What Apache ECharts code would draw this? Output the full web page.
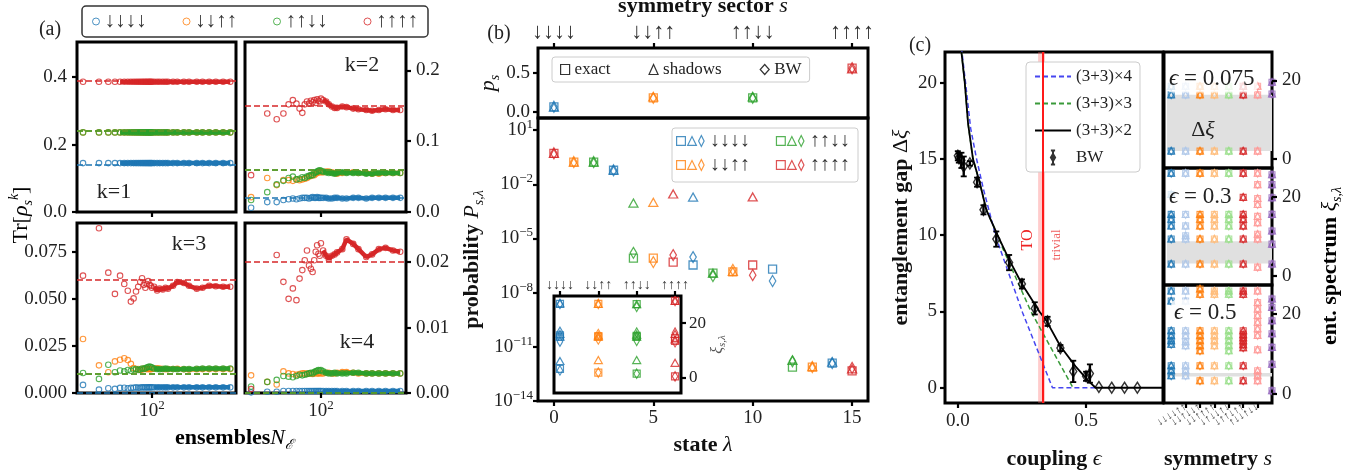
<!DOCTYPE html>
<html><head><meta charset="utf-8">
<script src="https://cdn.jsdelivr.net/npm/echarts@6.0.0/dist/echarts.min.js"></script>
<style>html,body{margin:0;padding:0;background:#fff;}#chart{width:1354px;height:475px;}</style>
</head><body>
<div id="chart"></div>
<script>
/* ================= DATA ================= */
const SECTORS = ['↓↓↓↓','↓↓↑↑','↑↑↓↓','↑↑↑↑'];
const C4 = ['#1f77b4','#ff7f0e','#2ca02c','#d62728'];
const C8 = ['#1f77b4','#aec7e8','#ff7f0e','#ffbb78','#98df8a','#d62728','#ff9896','#9467bd'];

// ---- (a) purity Tr[rho_s^k] vs ensembles N ----
const N_EARLY = [5,10,15,20,25,30,35,40,45,50,55,60,65,70,75,80,85,90,95,100];
const N_LATE  = [110,125,140,160,180,200,250,300,400,500,700,900,1200,1600,2200,3000];
const N_RANGE = [3.85, 3850];
const N_TICKS = [100];

const K1_BLUE_E   = [0.145,0.145,0.145,0.145,0.145, 0.145,0.145,0.145,0.145,0.145, 0.145,0.145,0.145,0.145,0.145, 0.145,0.145,0.145,0.145,0.145];
const K1_BLUE_L   = [0.145,0.145,0.145,0.145, 0.145,0.145,0.145,0.145, 0.145,0.145,0.145,0.145, 0.145,0.145,0.145,0.145];
const K1_ORANGE_E = [0.236,0.236,0.236,0.236,0.236, 0.236,0.236,0.236,0.236,0.236, 0.236,0.236,0.236,0.236,0.236, 0.236,0.236,0.236,0.236,0.236];
const K1_ORANGE_L = [0.236,0.236,0.236,0.236, 0.236,0.236,0.236,0.236, 0.236,0.236,0.236,0.236, 0.236,0.236,0.236,0.236];
const K1_GREEN_E  = [0.236,0.236,0.236,0.236,0.236, 0.236,0.236,0.236,0.236,0.236, 0.236,0.236,0.236,0.236,0.236, 0.236,0.236,0.236,0.236,0.236];
const K1_GREEN_L  = [0.236,0.236,0.236,0.236, 0.236,0.236,0.236,0.236, 0.236,0.236,0.236,0.236, 0.236,0.236,0.236,0.236];
const K1_RED_E    = [0.386,0.386,0.386,0.386,0.386, 0.386,0.386,0.386,0.386,0.386, 0.386,0.386,0.386,0.386,0.386, 0.386,0.386,0.386,0.386,0.386];
const K1_RED_L    = [0.386,0.386,0.386,0.386, 0.386,0.386,0.386,0.386, 0.386,0.386,0.386,0.386, 0.386,0.386,0.386,0.386];
const K1_EXACT    = [0.145,0.236,0.236,0.386];

const K2_BLUE_E   = [0.006,0.014,0.014,0.017,0.018, 0.019,0.018,0.019,0.020,0.020, 0.020,0.019,0.020,0.021,0.020, 0.020,0.021,0.020,0.020,0.020];
const K2_BLUE_L   = [0.020,0.020,0.019,0.019, 0.020,0.020,0.019,0.019, 0.020,0.020,0.019,0.020, 0.020,0.020,0.020,0.020];
const K2_ORANGE_E = [0.021,0.048,0.038,0.045,0.045, 0.044,0.046,0.045,0.046,0.047, 0.048,0.050,0.051,0.053,0.052, 0.054,0.055,0.056,0.057,0.056];
const K2_ORANGE_L = [0.056,0.057,0.057,0.056, 0.055,0.054,0.055,0.056, 0.056,0.055,0.055,0.054, 0.054,0.055,0.055,0.055];
const K2_GREEN_E  = [0.017,0.028,0.039,0.044,0.048, 0.050,0.046,0.047,0.049,0.048, 0.050,0.051,0.052,0.052,0.055, 0.056,0.057,0.058,0.059,0.058];
const K2_GREEN_L  = [0.057,0.056,0.055,0.055, 0.054,0.055,0.056,0.055, 0.055,0.055,0.054,0.054, 0.055,0.055,0.055,0.055];
const K2_RED_E    = [0.052,0.139,0.131,0.139,0.152, 0.158,0.153,0.146,0.140,0.152, 0.156,0.153,0.157,0.155,0.158, 0.154,0.159,0.157,0.156,0.160];
const K2_RED_L    = [0.158,0.156,0.152,0.149, 0.147,0.147,0.149,0.148, 0.146,0.145,0.144,0.143, 0.144,0.145,0.144,0.144];
const K2_EXACT    = [0.0195,0.055,0.055,0.146];

const K3_BLUE_E   = [0.0043,0.0018,0.0025,0.0022,0.0027, 0.0028,0.0025,0.0027,0.0028,0.0030, 0.0028,0.0029,0.0030,0.0030,0.0029, 0.0030,0.0030,0.0030,0.0030,0.0030];
const K3_BLUE_L   = [0.0030,0.0030,0.0030,0.0030, 0.0030,0.0030,0.0030,0.0030, 0.0030,0.0030,0.0030,0.0030, 0.0030,0.0030,0.0030,0.0030];
const K3_ORANGE_E = [0.0287,0.0147,0.0110,0.0168,0.0177, 0.0185,0.0175,0.0155,0.0133,0.0125, 0.0128,0.0122,0.0125,0.0130,0.0128, 0.0127,0.0128,0.0126,0.0127,0.0128];
const K3_ORANGE_L = [0.0130,0.0132,0.0130,0.0128, 0.0126,0.0127,0.0128,0.0129, 0.0126,0.0125,0.0126,0.0127, 0.0127,0.0127,0.0127,0.0127];
const K3_GREEN_E  = [0.0106,0.0075,0.0150,0.0110,0.0120, 0.0115,0.0122,0.0118,0.0125,0.0128, 0.0122,0.0125,0.0130,0.0128,0.0132, 0.0135,0.0138,0.0140,0.0138,0.0135];
const K3_GREEN_L  = [0.0130,0.0128,0.0126,0.0128, 0.0130,0.0128,0.0127,0.0126, 0.0127,0.0128,0.0129,0.0130, 0.0130,0.0130,0.0130,0.0130];
const K3_RED_E    = [0.0624,0.0876,0.0640,0.0527,0.0624, 0.0580,0.0544,0.0486,0.0503,0.0540, 0.0565,0.0590,0.0610,0.0575,0.0560, 0.0580,0.0595,0.0575,0.0570,0.0560];
const K3_RED_L    = [0.0565,0.0545,0.0555,0.0550, 0.0560,0.0555,0.0570,0.0590, 0.0585,0.0570,0.0555,0.0560, 0.0570,0.0568,0.0565,0.0565];
const K3_EXACT    = [0.0030,0.0128,0.0128,0.0565];

const K4_BLUE_E   = [0.0001,0.0002,0.0002,0.0003,0.0003, 0.0003,0.0003,0.0003,0.0003,0.0003, 0.0003,0.0003,0.0003,0.0003,0.0003, 0.0003,0.0003,0.0003,0.0003,0.0003];
const K4_BLUE_L   = [0.0003,0.0003,0.0003,0.0003, 0.0003,0.0003,0.0003,0.0003, 0.0003,0.0003,0.0003,0.0003, 0.0003,0.0003,0.0003,0.0003];
const K4_ORANGE_E = [0.0027,0.0017,0.0013,0.0033,0.0030, 0.0029,0.0028,0.0029,0.0030,0.0030, 0.0029,0.0030,0.0030,0.0029,0.0030, 0.0031,0.0030,0.0030,0.0031,0.0030];
const K4_ORANGE_L = [0.0030,0.0031,0.0031,0.0030, 0.0030,0.0031,0.0032,0.0032, 0.0031,0.0030,0.0030,0.0030, 0.0030,0.0030,0.0030,0.0030];
const K4_GREEN_E  = [0.0010,0.0017,0.0020,0.0026,0.0025, 0.0024,0.0026,0.0028,0.0027,0.0028, 0.0029,0.0030,0.0031,0.0030,0.0032, 0.0033,0.0034,0.0035,0.0034,0.0035];
const K4_GREEN_L  = [0.0033,0.0031,0.0030,0.0030, 0.0031,0.0030,0.0030,0.0030, 0.0031,0.0031,0.0030,0.0030, 0.0030,0.0030,0.0030,0.0030];
const K4_RED_E    = [0.0006,null,0.0211,0.0170,0.0144, 0.0160,0.0142,0.0175,0.0188,0.0203, 0.0218,0.0195,0.0190,0.0185,0.0203, 0.0216,0.0226,0.0213,0.0210,0.0229];
const K4_RED_L    = [0.0218,0.0210,0.0205,0.0210, 0.0212,0.0215,0.0220,0.0235, 0.0228,0.0220,0.0208,0.0212, 0.0220,0.0222,0.0218,0.0216];
const K4_EXACT    = [0.0004,0.0030,0.0030,0.0216];

// ---- (b) sector probabilities and state probabilities ----
const SECTOR_POS = [0,5,10,15];
const PS_EXACT   = [0.064,0.18,0.18,0.56];
const PS_SHADOWS = [0.060,0.19,0.19,0.55];
const PS_BW      = [0.064,0.18,0.18,0.56];

const LAMBDA        = [0,1,2,3,4,5,6,7,8,9,10,11,12,13,14,15];
const LAMBDA_SECTOR = [3,1,2,0,2,1,3,0,2,1,3,0,2,1,0,3];
const P_EXACT   = [0.52,0.17,0.17,0.06,8.1e-7,8.1e-7,4.9e-7,3.4e-7,1.2e-7,1.4e-7,3.4e-7,2.0e-7,7.6e-13,7.6e-13,1.26e-12,4.6e-13];
const P_SHADOWS = [0.52,0.17,0.17,0.06,9.1e-4,1.0e-3,2.9e-3,1.96e-3,1.2e-7,1.5e-7,2.0e-3,null,1.8e-12,8.0e-13,1.4e-12,6.0e-13];
const P_BW      = [0.52,0.17,0.17,0.06,1.6e-6,4.9e-7,1.2e-6,9.3e-7,8.3e-8,1.8e-7,9.3e-8,4.4e-8,1.6e-12,7.6e-13,1.26e-12,6.8e-13];
const STATE_TICKS = [0,5,10,15];
const P_RANGE = [1e-14, 46.8];
const P_TICK_EXP = [-14,-11,-8,-5,-2,1];

// inset: entanglement spectrum per sector (4 levels each)
const XI_EXACT   = [[3.2,15.0,15.5,27.1],[1.8,15.0,15.2,27.1],[1.4,15.0,15.3,27.0],[0.4,13.5,14.6,28.2]];
const XI_SHADOWS = [[6.1,15.0,16.0,27.3],[6.4,15.0,15.5,27.1],[6.4,15.0,15.8,27.0],[5.4,14.0,16.0,28.2]];
const XI_BW      = [[2.6,13.2,16.8,27.1],[1.8,14.0,16.0,27.1],[1.4,13.5,16.5,26.0],[0.4,13.0,16.5,28.2]];

// ---- (c) entanglement gap vs coupling ----
const EPS_X2 = [0.014,0.027,0.04,0.059,0.085,0.111,0.155,0.2,0.25,0.318,0.345,0.4,0.459,0.511,0.537,0.8];
const GAP_X2 = [22,20,17.3,15,13.47,11.66,10,8.4,6.8,5.0,4.4,2.72,1.4,0.42,0,0];
const EPS_X3 = [0.014,0.027,0.04,0.059,0.085,0.111,0.155,0.176,0.285,0.449];
const GAP_X3 = [22,20,17.3,15,13.47,11.66,10,9.1,5.0,0];
const EPS_X4 = [0.014,0.03,0.05,0.073,0.1,0.15,0.253,0.369,0.537];
const GAP_X4 = [22.3,20,17,15,13,9.8,4.9,0,0];
const BW_EPS = [0.0,0.004,0.014,0.023,0.047,0.075,0.1,0.15,0.2,0.25,0.3,0.35,0.4,0.45,0.5,0.515,0.55,0.6,0.65,0.7];
const BW_GAP = [15.2,15.05,14.9,14.5,14.7,13.47,11.66,9.74,8.2,6.8,5.2,4.35,2.6,1.07,0.75,0.93,0.05,0,0,0];
const BW_ERR = [0.3,0.3,0.5,0.65,0.15,0.3,0.3,0.5,0.5,0.3,0.4,0.3,0.2,0.7,0.3,0.6,0,0,0,0];
const C_TRANSITION = 0.326;
const C_BAND = [0.313,0.340];

// ent. spectrum per symmetry column at three couplings
const SYM_LABELS = ['↓↓↓↓↓↓','↓↓↓↓↑↑','↓↓↑↓↓↑','↓↓↑↑↑↑','↓↑↓↓↑↓','↓↑↑↓↑↑','↑↓↓↑↓↓','↑↑↑↑↑↑'];
const SPEC_EPS = ['0.075','0.3','0.5'];
const SPEC_E0075 = [[2.0,16.3,18.5],[2.0,16.3,18.5],[2.0,16.3,18.5],[2.0,16.3,18.5],[2.0,16.3,18.5],[2.0,16.3,18.5],[2.0,16.3,18.5],[16.5,19.5]];
const SPEC_E03 = [
  [3.0,9.3,12.6,14.3,15.5,20.5,25.9],
  [3.0,9.3,10.1,12.6,15.5,25.9],
  [3.0,9.3,12.6,14.3,15.5,25.9],
  [3.0,9.3,12.6,14.3,15.5,25.9],
  [3.0,9.3,12.6,14.3,15.5,25.9],
  [3.0,9.3,12.6,14.3,15.5,19.8,25.9],
  [2.2,9.3,10.5,13.4,15.0,18.0,19.5,23.0,25.9],
  [3.0,8.0,11.3,15.5,19.7,23.0,25.5]
];
const SPEC_E05 = [
  [4.5,5.75,7.0,12.4,13.25,14.5,15.75,23.2,25.7],
  [4.5,5.75,7.0,12.0,13.0,14.5,15.75,23.2,25.7],
  [3.25,7.0,10.75,12.0,13.25,14.5,15.75,24.9,26.2],
  [3.25,7.0,12.0,13.25,14.5,15.75,24.9,25.7],
  [3.25,7.0,10.75,12.0,13.25,14.5,15.75,24.9,25.7],
  [3.25,7.0,11.5,12.25,13.25,14.0,14.75,15.75,24.9,25.7],
  [3.25,4.5,5.75,11.0,14.6,16.25,17.9,19.6,21.2,22.8,25.7],
  [0.75,7.4,11.6,15.0,18.25,21.6,23.7]
];
const SPEC_BAND = [[2.0,16.3],[3.1,8.7],[4.3,5.2]];

/* ================= STYLE / BUILD ================= */
const SERIF = "'Liberation Serif','DejaVu Serif',serif";
const ARROWF = SERIF;
const TRANSP = 'rgba(0,0,0,0)';
const ARROW_C = '#333';
const RICH_TICK = {
  b:{fontFamily:SERIF,fontSize:19,color:'#222',lineHeight:24,verticalAlign:'middle'},
  s:{fontFamily:SERIF,fontSize:13,color:'#222',lineHeight:11,verticalAlign:'top'}
};
const RICH_TITLE = {
  bd:{fontFamily:SERIF,fontWeight:'bold',fontSize:22,color:'#111',lineHeight:28,verticalAlign:'middle'},
  it:{fontFamily:SERIF,fontStyle:'italic',fontSize:22,color:'#111',lineHeight:28,verticalAlign:'middle'},
  rm:{fontFamily:SERIF,fontSize:22,color:'#111',lineHeight:28,verticalAlign:'middle'},
  sub:{fontFamily:SERIF,fontStyle:'italic',fontSize:14,color:'#111',lineHeight:11,verticalAlign:'bottom'},
  sup:{fontFamily:SERIF,fontStyle:'italic',fontSize:14,color:'#111',lineHeight:11,verticalAlign:'top'},
  gi:{fontFamily:SERIF,fontStyle:'italic',fontSize:16,color:'#555',lineHeight:20,verticalAlign:'middle'},
  gs:{fontFamily:SERIF,fontStyle:'italic',fontSize:11,color:'#555',lineHeight:9,verticalAlign:'bottom'}
};
const supFmt = v => { const e = Math.round(v); return '{b|10}{s|' + (e < 0 ? '\u2212' + (-e) : e) + '}'; };

function ax(o) {
  const a = {
    type: o.type || 'value', gridIndex: o.g, min: o.min, max: o.max, position: o.pos,
    axisLine: {show:false, onZero:false}, splitLine: {show:false},
    axisTick: {show: !!o.ticks, inside:false, length: o.tl || 5, lineStyle:{color:'#000', width:2.2}},
    axisLabel: {show: !!o.labels, fontFamily: o.ff || SERIF, fontSize: o.fs || 19, color: o.lc || '#222', margin: o.margin == null ? 8 : o.margin},
    z: 10
  };
  if (o.ticks) { a.axisTick.customValues = o.ticks; a.axisLabel.customValues = o.ticks; }
  if (o.fmt) a.axisLabel.formatter = o.fmt;
  if (o.rich) a.axisLabel.rich = o.rich;
  if (o.rotate != null) a.axisLabel.rotate = o.rotate;
  if (o.name) {
    a.name = o.name; a.nameLocation = 'middle'; a.nameGap = o.nameGap;
    a.nameTextStyle = {rich: RICH_TITLE};
    if (o.nameRotate != null) a.nameRotate = o.nameRotate;
  }
  if (a.type === 'log') { a.logBase = 10; a.axisTick.show = false; a.axisLabel.show = false; }
  return a;
}
const expR = [Math.log10(N_RANGE[0]), Math.log10(N_RANGE[1])];
const expT = N_TICKS.map(v => Math.log10(v));

const xAxis = [
  ax({g:0,type:'log',min:N_RANGE[0],max:N_RANGE[1],pos:'bottom'}),
  ax({g:1,type:'log',min:N_RANGE[0],max:N_RANGE[1],pos:'bottom'}),
  ax({g:2,type:'log',min:N_RANGE[0],max:N_RANGE[1],pos:'bottom'}),
  ax({g:3,type:'log',min:N_RANGE[0],max:N_RANGE[1],pos:'bottom'}),
  ax({g:0,min:expR[0],max:expR[1],pos:'bottom',ticks:expT}),
  ax({g:1,min:expR[0],max:expR[1],pos:'bottom',ticks:expT}),
  ax({g:2,min:expR[0],max:expR[1],pos:'bottom',ticks:expT,labels:true,fmt:supFmt,rich:RICH_TICK,margin:6}),
  ax({g:3,min:expR[0],max:expR[1],pos:'bottom',ticks:expT,labels:true,fmt:supFmt,rich:RICH_TICK,margin:6}),
  ax({g:4,min:-0.8,max:15.8,pos:'top',ticks:SECTOR_POS,labels:true,fmt:v=>SECTORS[SECTOR_POS.indexOf(v)]||'',ff:ARROWF,fs:22,lc:ARROW_C,margin:5,name:'{bd|symmetry sector }{it|s}',nameGap:28}),
  ax({g:5,min:-0.8,max:15.8,pos:'bottom',ticks:STATE_TICKS,labels:true,fmt:v=>String(v),margin:8,name:'{bd|state }{it|λ}',nameGap:30}),
  ax({g:6,min:-0.155,max:3.155,pos:'top',ticks:[0,1,2,3],labels:true,fmt:v=>SECTORS[v]||'',ff:ARROWF,fs:14,lc:ARROW_C,margin:4}),
  ax({g:7,min:-0.05,max:0.8,pos:'bottom',ticks:[0,0.5],labels:true,fmt:v=>v.toFixed(1),margin:9,name:'{bd|coupling }{it|ϵ}',nameGap:42}),
  ax({g:8,min:-0.5,max:7,pos:'bottom'}),
  ax({g:9,min:-0.5,max:7,pos:'bottom'}),
  ax({g:10,min:-0.5,max:7,pos:'bottom',ticks:[0,1,2,3,4,5,6,7],labels:true,fmt:v=>SYM_LABELS[v]||'',ff:ARROWF,fs:11,lc:'#444',rotate:32,margin:3,name:'{bd|symmetry }{it|s}',nameGap:42})
];
const yAxis = [
  ax({g:0,min:0,max:0.504,pos:'left',ticks:[0,0.2,0.4],labels:true,fmt:v=>v.toFixed(1),margin:10}),
  ax({g:1,min:0,max:0.24,pos:'right',ticks:[0,0.1,0.2],labels:true,fmt:v=>v.toFixed(1),margin:10}),
  ax({g:2,min:0,max:0.0904,pos:'left',ticks:[0,0.025,0.05,0.075],labels:true,fmt:v=>v.toFixed(3),margin:10}),
  ax({g:3,min:0,max:0.026,pos:'right',ticks:[0,0.01,0.02],labels:true,fmt:v=>v.toFixed(2),margin:10}),
  ax({g:4,min:-0.08,max:0.82,pos:'left',ticks:[0,0.5],labels:true,fmt:v=>v.toFixed(1),margin:8,name:'{it|p}{sub|s}',nameGap:36}),
  ax({g:5,type:'log',min:P_RANGE[0],max:P_RANGE[1],pos:'left'}),
  ax({g:5,min:Math.log10(P_RANGE[0]),max:Math.log10(P_RANGE[1]),pos:'left',ticks:P_TICK_EXP,labels:true,fmt:supFmt,rich:RICH_TICK,margin:5,name:'{bd|probability }{it|P}{sub|s,λ}',nameGap:52}),
  ax({g:6,min:-5.7,max:30,pos:'right',ticks:[0,20],labels:true,fmt:v=>String(v),fs:17,margin:8,name:'{gi|ξ}{gs|s,λ}',nameGap:25,nameRotate:90}),
  ax({g:7,min:-1,max:22,pos:'left',ticks:[0,5,10,15,20],labels:true,fmt:v=>String(v),margin:8,name:'{bd|entanglement gap }{rm|Δ}{it|ξ}',nameGap:30}),
  ax({g:8,min:-2.3,max:27.2,pos:'right',ticks:[0,20],labels:true,fmt:v=>String(v),margin:10}),
  ax({g:9,min:-2.3,max:27.2,pos:'right',ticks:[0,20],labels:true,fmt:v=>String(v),margin:10}),
  ax({g:10,min:-2.3,max:27.2,pos:'right',ticks:[0,20],labels:true,fmt:v=>String(v),margin:10})
];

const gridBase = {show:true, borderColor:'#000', borderWidth:3, backgroundColor:TRANSP, containLabel:false, outerBoundsMode:'none'};
const G = (left,top,width,height,extra) => Object.assign({}, gridBase, {left,top,width,height}, extra||{});
const grid = [
  G(77,42,159,170), G(245,42,161,170), G(77,223,159,170), G(245,223,161,170),
  G(538,48,330,70), G(538,118,330,283), G(554,296,127,97,{backgroundColor:'#fff', z:3}),
  G(945,52,218,351), G(1164,52,108,116), G(1164,168,108,117), G(1164,285,108,118)
];

const series = [];
const pair = (xs, ys) => xs.map((x,i)=>[x, ys[i]]).filter(p => p[1] !== null && p[1] !== undefined);

// (a)
const A_SETS = [
  [[K1_BLUE_E,K1_BLUE_L],[K1_ORANGE_E,K1_ORANGE_L],[K1_GREEN_E,K1_GREEN_L],[K1_RED_E,K1_RED_L]],
  [[K2_BLUE_E,K2_BLUE_L],[K2_ORANGE_E,K2_ORANGE_L],[K2_GREEN_E,K2_GREEN_L],[K2_RED_E,K2_RED_L]],
  [[K3_BLUE_E,K3_BLUE_L],[K3_ORANGE_E,K3_ORANGE_L],[K3_GREEN_E,K3_GREEN_L],[K3_RED_E,K3_RED_L]],
  [[K4_BLUE_E,K4_BLUE_L],[K4_ORANGE_E,K4_ORANGE_L],[K4_GREEN_E,K4_GREEN_L],[K4_RED_E,K4_RED_L]]
];
const A_EXACT = [K1_EXACT,K2_EXACT,K3_EXACT,K4_EXACT];
const A_BAND_FROM = [4, 20, 20, 20];   // index into N_EARLY where the dense band begins
A_SETS.forEach((panel, p) => panel.forEach((set, s) => {
  const c = C4[s];
  const allN = N_EARLY.concat(N_LATE), allV = set[0].concat(set[1]);
  series.push({type:'line', xAxisIndex:p, yAxisIndex:p, data:pair(allN.slice(A_BAND_FROM[p]), allV.slice(A_BAND_FROM[p])), symbol:'none', silent:true,
    lineStyle:{color:c, width:4.5}, itemStyle:{color:c}, z:2+s,
    markLine:{silent:true, symbol:['none','none'], label:{show:false}, lineStyle:{color:c, type:[6,3], width:1.5}, data:[{yAxis:A_EXACT[p][s]}]}});
  series.push({type:'scatter', name:SECTORS[s], xAxisIndex:p, yAxisIndex:p, data:pair(allN, allV),
    symbol:'circle', symbolSize:5.5, silent:true, itemStyle:{color:TRANSP, borderColor:c, borderWidth:1.1}, z:2+s});
}));

// marker helper
function hollow(name, sym, size, data, xi, yi, bw) {
  return {type:'scatter', name:name, symbol:sym, symbolSize:size, data:data, xAxisIndex:xi, yAxisIndex:yi, silent:true,
    itemStyle:{color:TRANSP, borderWidth:bw||1.3}, z:4};
}
// (b) top: p_s
const psPts = vals => SECTOR_POS.map((x,i)=>({value:[x, vals[i]], itemStyle:{borderColor:C4[i]}}));
series.push(hollow('exact','rect',8,psPts(PS_EXACT),8,4));
series.push(hollow('shadows','triangle',[9,8],psPts(PS_SHADOWS),8,4));
series.push(hollow('BW','diamond',[6.5,11],psPts(PS_BW),8,4));
// (b) main
const lamPts = vals => LAMBDA.map((l,i)=> vals[i]==null ? null : {value:[l, vals[i]], itemStyle:{borderColor:C4[LAMBDA_SECTOR[i]]}}).filter(Boolean);
series.push(hollow('exact','rect',8,lamPts(P_EXACT),9,5));
series.push(hollow('shadows','triangle',[9,8],lamPts(P_SHADOWS),9,5));
series.push(hollow('BW','diamond',[6.5,11],lamPts(P_BW),9,5));
// (b) inset
const insetPts = M => { const pts=[]; M.forEach((vals,s)=>vals.forEach(v=>pts.push({value:[s,v], itemStyle:{borderColor:C4[s]}}))); return pts; };
[['exact','rect',7,XI_EXACT],['shadows','triangle',[8,7],XI_SHADOWS],['BW','diamond',[5.5,9.5],XI_BW]].forEach(d=>{
  const sr = hollow(d[0],d[1],d[2],insetPts(d[3]),10,7,1.2); sr.z = 6; series.push(sr);
});

// (c) main
series.push({type:'line', xAxisIndex:11, yAxisIndex:8, data:[], silent:true, z:1,
  markArea:{silent:true, itemStyle:{color:'rgba(255,110,110,0.35)'}, data:[[{xAxis:C_BAND[0]},{xAxis:C_BAND[1]}]]},
  markLine:{silent:true, symbol:['none','none'], label:{show:false}, lineStyle:{color:'#ff1a1a', width:2, type:'solid'}, data:[{xAxis:C_TRANSITION}]}});
series.push({type:'line', name:'(3+3)×4', xAxisIndex:11, yAxisIndex:8, data:pair(EPS_X4,GAP_X4), symbol:'none', silent:true, itemStyle:{color:TRANSP}, lineStyle:{color:'#4646f0', width:1.5, type:[5,3]}, z:3});
series.push({type:'line', name:'(3+3)×3', xAxisIndex:11, yAxisIndex:8, data:pair(EPS_X3,GAP_X3), symbol:'none', silent:true, itemStyle:{color:TRANSP}, lineStyle:{color:'#3a9a3a', width:1.5, type:[5,3]}, z:3});
series.push({type:'line', name:'(3+3)×2', xAxisIndex:11, yAxisIndex:8, data:pair(EPS_X2,GAP_X2), symbol:'none', silent:true, itemStyle:{color:TRANSP}, lineStyle:{color:'#000', width:1.8}, z:4});
series.push({type:'custom', xAxisIndex:11, yAxisIndex:8, silent:true, z:5,
  data: BW_EPS.map((e,i)=>[e, BW_GAP[i]-BW_ERR[i], BW_GAP[i]+BW_ERR[i]]),
  encode:{x:0, y:[1,2]},
  renderItem:(params, api)=>{
    const lo = api.coord([api.value(0), api.value(1)]);
    const hi = api.coord([api.value(0), api.value(2)]);
    if (Math.abs(lo[1]-hi[1]) < 0.5) return {type:'group', children:[]};
    const w = 3, st = {stroke:'#000', lineWidth:2.4};
    return {type:'group', children:[
      {type:'line', shape:{x1:lo[0],y1:lo[1],x2:hi[0],y2:hi[1]}, style:st},
      {type:'line', shape:{x1:lo[0]-w,y1:lo[1],x2:lo[0]+w,y2:lo[1]}, style:{stroke:'#000', lineWidth:1.8}},
      {type:'line', shape:{x1:hi[0]-w,y1:hi[1],x2:hi[0]+w,y2:hi[1]}, style:{stroke:'#000', lineWidth:1.8}}
    ]};
  }});
series.push({type:'scatter', name:'BW', xAxisIndex:11, yAxisIndex:8, data:pair(BW_EPS,BW_GAP), symbol:'diamond', symbolSize:[7,11], silent:true,
  itemStyle:{color:TRANSP, borderColor:'#000', borderWidth:1.5}, z:6});

// (c) right spectra
const SPECS = [SPEC_E0075, SPEC_E03, SPEC_E05];
SPECS.forEach((spec, p) => {
  series.push({type:'line', xAxisIndex:12+p, yAxisIndex:9+p, data:[], silent:true, z:1,
    markArea:{silent:true, itemStyle:{color:'#e0e0e0'}, data:[[{xAxis:-0.3, yAxis:SPEC_BAND[p][0]},{xAxis:7, yAxis:SPEC_BAND[p][1]}]]}});
  const pts = []; spec.forEach((col, ci) => col.forEach(v => pts.push({value:[ci, v], itemStyle:{borderColor:C8[ci]}})));
  series.push(hollow('exact','rect',6,pts,12+p,9+p,1.1));
  series.push(hollow('shadows','triangle',[7,6],pts,12+p,9+p,1.1));
  series.push(hollow('BW','diamond',[5,8],pts,12+p,9+p,1.1));
});

// legends
const LT = {fontFamily:SERIF, fontSize:17, color:'#222'};
const TRIPLE = 'path://M0,1L8,1L8,9L0,9Z M10,9L14,1L18,9Z M22.5,0L25,5L22.5,10L20,5Z';
const BW_ICON = 'path://M5,0L5,20 M2,0L8,0 M2,20L8,20 M5,5L8,10L5,15L2,10Z';
const LINE_ITEM = n => ({name:n, itemStyle:{color:TRANSP, borderColor:TRANSP, borderWidth:0, opacity:0}});
const legend = [
  {left:82, top:6, orient:'horizontal', selectedMode:false, itemWidth:7, itemHeight:7, itemGap:36, padding:[5,10],
   borderColor:'#333', borderWidth:1.5, borderRadius:4, backgroundColor:'#fff',
   textStyle:{fontFamily:ARROWF, fontSize:21, color:ARROW_C},
   data:SECTORS.map((s,i)=>({name:s, icon:'circle', itemStyle:{color:TRANSP, borderColor:C4[i], borderWidth:1}}))},
  {left:552, top:57, orient:'horizontal', selectedMode:false, itemWidth:9, itemHeight:10, itemGap:38, padding:[4,8],
   borderColor:'#ccc', borderWidth:1, borderRadius:3, backgroundColor:'#fff', textStyle:LT,
   data:[{name:'exact', icon:'rect', itemStyle:{color:TRANSP, borderColor:'#000', borderWidth:1.2}},
         {name:'shadows', icon:'triangle', itemStyle:{color:TRANSP, borderColor:'#000', borderWidth:1.2}},
         {name:'BW', icon:'diamond', itemStyle:{color:TRANSP, borderColor:'#000', borderWidth:1.2}}]},
  {left:676, top:131, orient:'horizontal', selectedMode:false, itemWidth:29, itemHeight:11, itemGap:26, padding:0,
   textStyle:{fontFamily:ARROWF, fontSize:20, color:ARROW_C},
   data:[{name:SECTORS[0], icon:TRIPLE, itemStyle:{color:TRANSP, borderColor:C4[0], borderWidth:1.2}},
         {name:SECTORS[2], icon:TRIPLE, itemStyle:{color:TRANSP, borderColor:C4[2], borderWidth:1.2}}]},
  {left:676, top:155, orient:'horizontal', selectedMode:false, itemWidth:29, itemHeight:11, itemGap:26, padding:0,
   textStyle:{fontFamily:ARROWF, fontSize:20, color:ARROW_C},
   data:[{name:SECTORS[1], icon:TRIPLE, itemStyle:{color:TRANSP, borderColor:C4[1], borderWidth:1.2}},
         {name:SECTORS[3], icon:TRIPLE, itemStyle:{color:TRANSP, borderColor:C4[3], borderWidth:1.2}}]},
  {left:1026, top:62, orient:'vertical', selectedMode:false, itemWidth:36, itemHeight:14, itemGap:10, padding:[6,8],
   borderColor:'#ccc', borderWidth:1, borderRadius:4, backgroundColor:'#fff', textStyle:LT,
   data:[LINE_ITEM('(3+3)×4'), LINE_ITEM('(3+3)×3'), LINE_ITEM('(3+3)×2'),
         {name:'BW', icon:BW_ICON, itemStyle:{color:TRANSP, borderColor:'#000', borderWidth:2}}]}
];

// text annotations
const T = (x,y,text,size,extra) => Object.assign({type:'text', x:x, y:y, z:50, style:{text:text, font:size+'px '+SERIF, fill:'#222', align:'center', verticalAlign:'middle'}}, extra||{});
const R = (x,y,text,rot,extra) => Object.assign({type:'text', x:x, y:y, rotation:rot||0, z:50, style:{text:text, rich:RICH_TITLE, align:'center', verticalAlign:'middle'}}, extra||{});
const epsLabel = (x,y,val) => ({type:'text', x:x, y:y, z:50, style:{text:'{e|ϵ} = '+val, font:'23px '+SERIF, fill:'#222', align:'left', verticalAlign:'middle',
  rich:{e:{fontFamily:SERIF, fontStyle:'italic', fontSize:23, color:'#222'}}, backgroundColor:'rgba(255,255,255,0.82)', borderRadius:6, padding:[2,3]}});
const graphic = [
  T(50,30,'(a)',20), T(499,34,'(b)',20), T(920,46,'(c)',20),
  T(114,192,'k=1',22), T(362,65,'k=2',22), T(189,244,'k=3',22), T(357,342,'k=4',22),
  R(21,215,'{rm|Tr[}{it|ρ}{sub|s}{sup|k}{rm|]}',Math.PI/2),
  R(234,438,'{bd|ensembles}{it|N}{sub|ℰ}',0),
  {type:'rect', z:3, shape:{x:672,y:128,width:186,height:54,r:3}, style:{fill:'#fff', stroke:'#ccc', lineWidth:1}},
  T(1028,240,'TO',16,{rotation:Math.PI/2, style:{text:'TO', font:'16px '+SERIF, fill:'#ee2222', align:'center', verticalAlign:'middle'}}),
  T(1057,245,'trivial',13,{rotation:Math.PI/2, style:{text:'trivial', font:'13px '+SERIF, fill:'#f06060', align:'center', verticalAlign:'middle'}}),
  epsLabel(1166,79,SPEC_EPS[0]), epsLabel(1166,197,SPEC_EPS[1]), epsLabel(1171,313,SPEC_EPS[2]),
  T(1203,130,'Δξ',22,{style:{text:'Δ{i|ξ}', font:'22px '+SERIF, fill:'#222', align:'center', verticalAlign:'middle', rich:{i:{fontFamily:SERIF,fontStyle:'italic',fontSize:22,color:'#222'}}}}),
  R(1330,266,'{bd|ent. spectrum }{it|ξ}{sub|s,λ}',Math.PI/2)
];

const chart = echarts.init(document.getElementById('chart'));
chart.setOption({animation:false, backgroundColor:'#fff', grid, xAxis, yAxis, legend, series, graphic});
</script>
</body></html>
